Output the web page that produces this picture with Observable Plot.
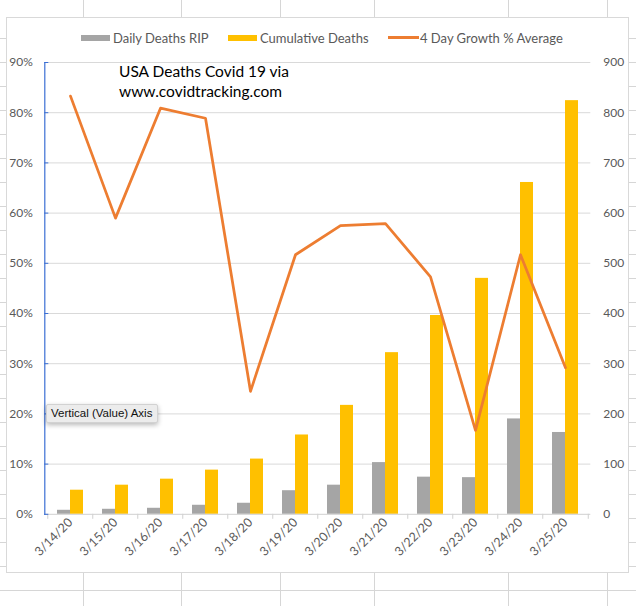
<!DOCTYPE html>
<html>
<head>
<meta charset="utf-8">
<script src="https://cdn.jsdelivr.net/npm/d3@7"></script>
<script src="https://cdn.jsdelivr.net/npm/@observablehq/plot@0.6"></script>
<style>
  html, body { margin: 0; padding: 0; }
  body {
    width: 636px; height: 606px; position: relative; overflow: hidden;
    background-color: #fff;
    background-image:
      linear-gradient(to right,
        transparent 82.5px, #d6d6d6 82.5px, #d6d6d6 83.5px,
        transparent 83.5px, transparent 180.5px, #d6d6d6 180.5px, #d6d6d6 181.5px,
        transparent 181.5px, transparent 279.5px, #d6d6d6 279.5px, #d6d6d6 280.5px,
        transparent 280.5px, transparent 373.5px, #d6d6d6 373.5px, #d6d6d6 374.5px,
        transparent 374.5px, transparent 507.5px, #d6d6d6 507.5px, #d6d6d6 508.5px,
        transparent 508.5px, transparent 606.5px, #d6d6d6 606.5px, #d6d6d6 607.5px,
        transparent 607.5px),
      repeating-linear-gradient(to bottom,
        transparent 0px, transparent 13.5px, #d6d6d6 13.5px, #d6d6d6 14.5px,
        transparent 14.5px, transparent 24.03px);
  }
  #frame {
    position: absolute; left: 5.5px; top: 17px; width: 621px; height: 554px;
    border: 1px solid #d9d9d9; background: #fff;
  }
  #chart { position: absolute; left: 0; top: 0; }
  .legend-item {
    position: absolute; top: 29px; height: 17px; display: flex; align-items: center;
    font-family: Lato, "Open Sans", sans-serif; font-size: 13px; color: #595959; white-space: nowrap;
  }
  .legend-item .sw { width: 29px; height: 6px; margin-right: 3px; }
  .legend-item .ln { width: 31px; height: 3px; margin-right: 1px; }
  #title {
    position: absolute; left: 119px; top: 62px;
    font-family: Lato, "Open Sans", sans-serif; font-size: 15.5px; line-height: 19.5px; color: #000;
  }
  #tip {
    position: absolute; left: 46px; top: 404px; width: 112px; height: 19px; box-sizing: border-box;
    background: #ececec; border: 1px solid #d2d2d2; border-radius: 2px;
    box-shadow: 0 2px 5px rgba(0,0,0,0.28);
    font-family: "Liberation Sans", Arial, sans-serif; font-size: 11.5px; line-height: 17px;
    padding-left: 4px; color: #111; white-space: nowrap;
  }
</style>
</head>
<body>
<div id="frame"></div>
<div id="chart"></div>
<div class="legend-item" style="left:81px"><span class="sw" style="background:#a5a5a5"></span>Daily Deaths RIP</div>
<div class="legend-item" style="left:228px"><span class="sw" style="background:#ffc000"></span>Cumulative Deaths</div>
<div class="legend-item" style="left:388px"><span class="ln" style="background:#ed7d31"></span>4 Day Growth % Average</div>
<div id="title">USA Deaths Covid 19 via<br>www.covidtracking.com</div>
<div id="tip">Vertical (Value) Axis</div>
<script>
// Reporting dates (x categories)
const dates = ["3/14/20", "3/15/20", "3/16/20", "3/17/20", "3/18/20", "3/19/20",
               "3/20/20", "3/21/20", "3/22/20", "3/23/20", "3/24/20", "3/25/20"];
// Deaths reported that day (right axis)
const dailyDeaths = [8, 10, 12, 18, 22, 47, 58, 103, 74, 73, 190, 163];
// Running total of deaths (right axis)
const cumulativeDeaths = [48, 58, 70, 88, 110, 158, 217, 322, 396, 470, 661, 824];
// 4-day average growth rate (left axis, as a fraction)
const growthAverage = [0.833, 0.59, 0.809, 0.789, 0.245, 0.517, 0.575, 0.579, 0.473, 0.167, 0.517, 0.292];
// Left axis ticks (percent) and right axis ticks (deaths)
const percentTicks = [0, 0.1, 0.2, 0.3, 0.4, 0.5, 0.6, 0.7, 0.8, 0.9];
const deathTicks = [0, 100, 200, 300, 400, 500, 600, 700, 800, 900];

// Both axes share one y scale: 900 deaths line up with 90%.
const DEATHS_PER_UNIT = 1000;

const rows = dates.map((date, i) => ({
  date,
  daily: dailyDeaths[i],
  cumulative: cumulativeDeaths[i],
  growth: growthAverage[i]
}));

const width = 636, height = 606;
const marginLeft = 44.3, marginRight = 45.7, marginTop = 62, marginBottom = 92.2;
const step = (width - marginLeft - marginRight) / dates.length;
const paddingInner = 1 - 26 / step;
const half = step * (1 - paddingInner) / 2;
const axisBlue = "#3b6fd4";

const chart = Plot.plot({
  width, height, marginLeft, marginRight, marginTop, marginBottom,
  style: { background: "transparent", fontFamily: "Lato, 'Open Sans', sans-serif", fontSize: "12px", color: "#595959", overflow: "visible" },
  x: { type: "band", domain: dates, paddingInner, paddingOuter: paddingInner / 2, align: 0.5, axis: null, label: null },
  y: { domain: [0, 0.9], axis: null, label: null },
  marks: [
    Plot.gridY(percentTicks.slice(1), { stroke: "#d9d9d9", strokeOpacity: 1 }),
    Plot.barY(rows, { x: "date", y: d => d.daily / DEATHS_PER_UNIT, fill: "#a5a5a5", insetRight: half }),
    Plot.barY(rows, { x: "date", y: d => d.cumulative / DEATHS_PER_UNIT, fill: "#ffc000", insetLeft: half }),
    Plot.ruleY([0], { stroke: "#d0d0d0" }),
    // category ticks sit on the band boundaries
    Plot.axisX(dates, { tickSize: 5, text: null, label: null, stroke: "#d0d0d0", strokeOpacity: 1, dx: -step / 2 }),
    Plot.axisX(dates.slice(-1), { tickSize: 5, text: null, label: null, stroke: "#d0d0d0", strokeOpacity: 1, dx: step / 2 }),
    Plot.axisX(dates, { tickSize: 0, tickRotate: -45, tickPadding: 6, fontSize: 12.5, fill: "#595959", label: null }),
    Plot.axisY(percentTicks, { anchor: "left", tickSize: 0, tickPadding: 12, fontSize: 12, fill: "#595959", label: null,
      tickFormat: d3.format(".0%") }),
    Plot.axisY(percentTicks, { anchor: "right", tickSize: 0, tickPadding: 12.5, fontSize: 12, fill: "#595959", label: null,
      tickFormat: (d, i) => String(deathTicks[i]) }),
    Plot.frame({ anchor: "left", stroke: axisBlue, strokeWidth: 1.2 }),
    Plot.axisY(percentTicks, { anchor: "left", tickSize: 4, text: null, label: null, stroke: axisBlue, strokeOpacity: 1, dx: 4 }),
    Plot.lineY(rows, { x: "date", y: "growth", stroke: "#ed7d31", strokeWidth: 2.75 })
  ]
});
document.getElementById("chart").appendChild(chart);
</script>
</body>
</html>
